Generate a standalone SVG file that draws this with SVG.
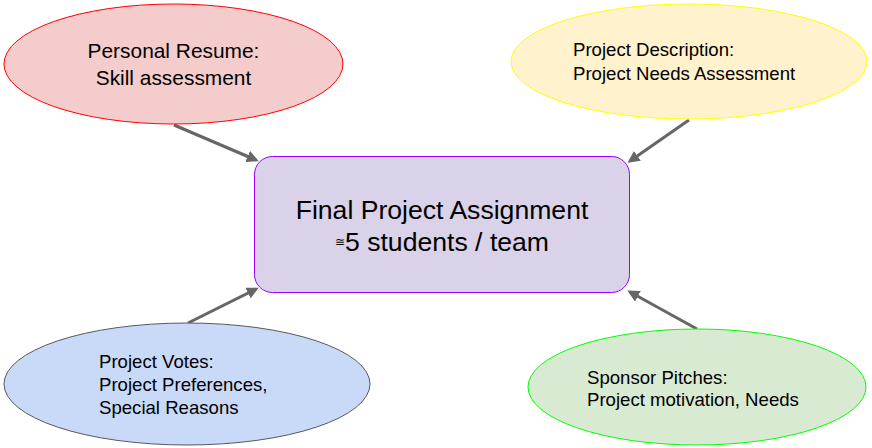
<svg xmlns="http://www.w3.org/2000/svg" width="872" height="448" viewBox="0 0 872 448">
<defs>
<marker id="ah" markerWidth="4" markerHeight="4" refX="3" refY="2" orient="auto" markerUnits="strokeWidth">
<path d="M0,0 L4,2 L0,4 Z" fill="#666666"/>
</marker>
<style>
text{font-family:"Liberation Sans",Arial,sans-serif;fill:#000}
.s{font-size:18.6px}
.c{stroke:#666666;stroke-width:3;fill:none;marker-end:url(#ah)}
</style>
</defs>
<rect width="872" height="448" fill="#ffffff"/>
<g id="connectors">
<line class="c" x1="174" y1="125" x2="256" y2="160"/>
<line class="c" x1="689" y1="120" x2="630" y2="161"/>
<line class="c" x1="188" y1="323" x2="256" y2="289"/>
<line class="c" x1="697" y1="329" x2="630" y2="292"/>
</g>
<g id="resume">
<ellipse cx="173.5" cy="64" rx="169.5" ry="60" fill="#f4cccc" stroke="#ff0000" stroke-width="1"/>
<text x="173.5" y="58" font-size="20.9" text-anchor="middle">Personal Resume:</text>
<text x="173.5" y="85" font-size="20.9" text-anchor="middle">Skill assessment</text>
</g>
<g id="description">
<ellipse cx="689" cy="61.5" rx="178" ry="57.5" fill="#fff2cc" stroke="#ffff00" stroke-width="1"/>
<text class="s" x="573" y="56">Project Description:</text>
<text class="s" x="573" y="80">Project Needs Assessment</text>
</g>
<g id="final">
<rect x="254.5" y="156.5" width="375" height="136" rx="18" fill="#d9d2e9" stroke="#9900ff" stroke-width="1"/>
<text x="442" y="219" font-size="26.6" text-anchor="middle">Final Project Assignment</text>
<text x="442" y="251" font-size="26.6" text-anchor="middle"><tspan font-size="12" dy="-5">≅</tspan><tspan dy="5">5 students / team</tspan></text>
</g>
<g id="votes">
<ellipse cx="187" cy="384" rx="183" ry="61" fill="#c9daf8" stroke="#595959" stroke-width="1"/>
<text class="s" x="99" y="368">Project Votes:</text>
<text class="s" x="99" y="391">Project Preferences,</text>
<text class="s" x="99" y="414">Special Reasons</text>
</g>
<g id="pitches">
<ellipse cx="697" cy="387" rx="169" ry="58" fill="#d9ead3" stroke="#00ff00" stroke-width="1"/>
<text class="s" x="587" y="384">Sponsor Pitches:</text>
<text class="s" x="587" y="406">Project motivation, Needs</text>
</g>
</svg>
